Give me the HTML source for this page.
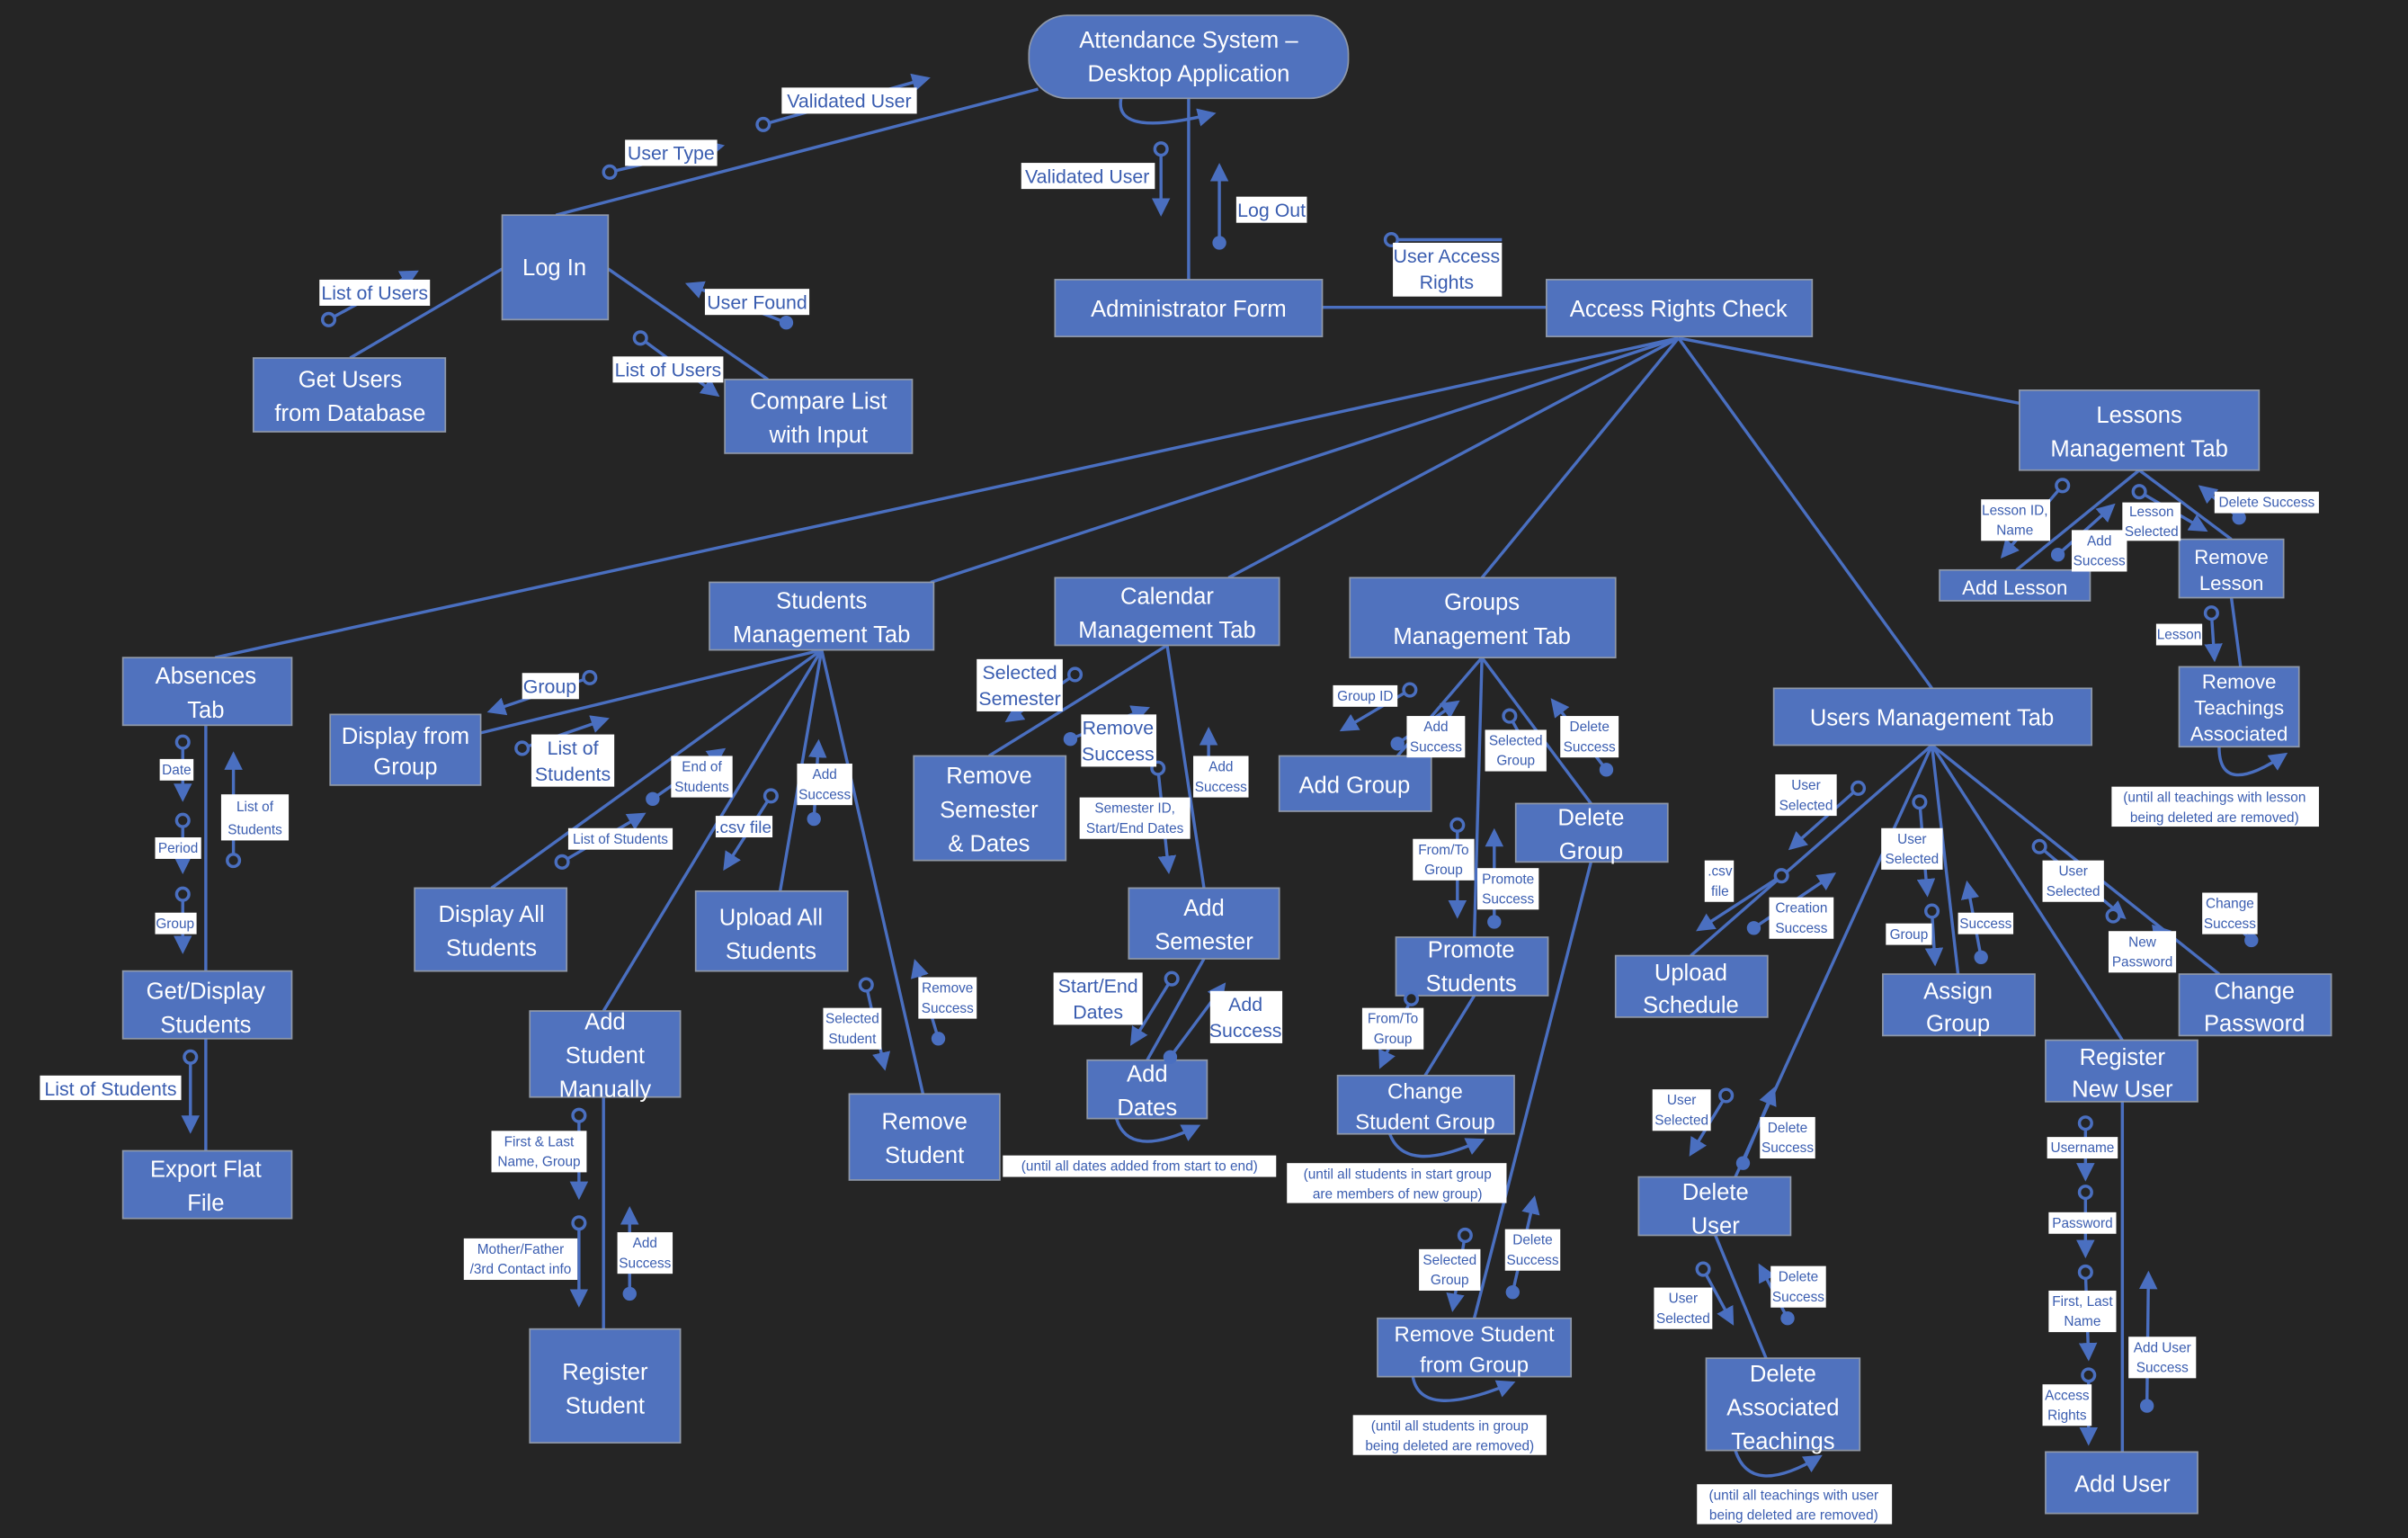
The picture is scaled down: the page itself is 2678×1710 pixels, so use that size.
<!DOCTYPE html>
<html><head><meta charset="utf-8"><style>
html,body{margin:0;padding:0;background:#252525;}
svg{display:block;}
.b{fill:#5072BE;stroke:#8f98a8;stroke-width:1;}
.bt{fill:#fff;font-family:"Liberation Sans",sans-serif;font-size:15px;text-anchor:middle;}
.ln{stroke:#4A6FC0;stroke-width:2;fill:none;}
.cp{stroke:#4A6FC0;stroke-width:2;fill:none;marker-end:url(#ah);}
.oc{fill:#252525;stroke:#4A6FC0;stroke-width:2;}
.fc{fill:#4A6FC0;}
.lb{fill:#fff;}
.lt{fill:#3A5DB0;font-family:"Liberation Sans",sans-serif;font-size:12.5px;text-anchor:middle;}
.st{fill:#3A5DB0;font-family:"Liberation Sans",sans-serif;font-size:9px;text-anchor:middle;}
</style></head><body>
<svg width="2678" height="1710" viewBox="0 0 1568 1001" preserveAspectRatio="none" xmlns="http://www.w3.org/2000/svg">
<defs><marker id="ah" markerWidth="6" markerHeight="6" refX="5" refY="3" orient="auto" markerUnits="strokeWidth"><path d="M0,0 L6,3 L0,6 z" fill="#4A6FC0"/></marker></defs>
<rect width="1568" height="1001" fill="#252525"/>

<!-- tree lines -->
<g class="ln">
<line x1="774" y1="64" x2="774" y2="182"/>
<line x1="676" y1="58" x2="362" y2="140"/>
<line x1="327" y1="175" x2="228" y2="233"/>
<line x1="396" y1="175" x2="500" y2="247"/>
<line x1="861" y1="200" x2="1007" y2="200"/>
<line x1="1093" y1="220" x2="1318" y2="263"/>
<line x1="1093" y1="220" x2="1258" y2="448"/>
<line x1="1093" y1="220" x2="965" y2="376"/>
<line x1="1093" y1="220" x2="800" y2="376"/>
<line x1="1093" y1="220" x2="606" y2="379"/>
<line x1="1093" y1="220" x2="140" y2="428"/>
<line x1="1393" y1="306" x2="1313" y2="371"/>
<line x1="1393" y1="306" x2="1453" y2="351"/>
<line x1="1453" y1="389" x2="1459" y2="434"/>
<line x1="535" y1="423" x2="313" y2="477"/>
<line x1="535" y1="423" x2="320" y2="578"/>
<line x1="535" y1="423" x2="508" y2="580"/>
<line x1="535" y1="423" x2="393" y2="658"/>
<line x1="535" y1="423" x2="601" y2="712"/>
<line x1="393" y1="714" x2="393" y2="865"/>
<line x1="134" y1="472" x2="134" y2="632"/>
<line x1="134" y1="676" x2="134" y2="749"/>
<line x1="760" y1="420" x2="644" y2="492"/>
<line x1="760" y1="420" x2="784" y2="578"/>
<line x1="784" y1="624" x2="747" y2="690"/>
<line x1="965" y1="428" x2="910" y2="492"/>
<line x1="965" y1="428" x2="1036" y2="523"/>
<line x1="965" y1="428" x2="960" y2="610"/>
<line x1="960" y1="648" x2="928" y2="700"/>
<line x1="1036" y1="561" x2="960" y2="858"/>
<line x1="1258" y1="485" x2="1101" y2="622"/>
<line x1="1258" y1="485" x2="1275" y2="634"/>
<line x1="1258" y1="485" x2="1445" y2="634"/>
<line x1="1258" y1="485" x2="1382" y2="677"/>
<line x1="1258" y1="485" x2="1130" y2="766"/>
<line x1="1117" y1="804" x2="1150" y2="884"/>
<line x1="1382" y1="717" x2="1382" y2="945"/>
</g>
<!-- loops -->
<g class="cp">
<path d="M730 64 Q725 90 790 74" />
<path d="M727 728 Q735 755 780 733" />
<path d="M905 738 Q915 765 965 742" />
<path d="M920 896 Q925 925 985 900" />
<path d="M1130 944 Q1140 975 1185 948" />
<path d="M1445 486 Q1445 520 1488 491" />
</g>

<!-- boxes -->
<rect class="b" x="670" y="10" width="208" height="54" rx="25"/>
<text class="bt" x="774" y="31">Attendance System –</text><text class="bt" x="774" y="53">Desktop Application</text>
<rect class="b" x="327" y="140" width="69" height="68"/><text class="bt" x="361" y="179">Log In</text>
<rect class="b" x="165" y="233" width="125" height="48"/><text class="bt" x="228" y="252">Get Users</text><text class="bt" x="228" y="274">from Database</text>
<rect class="b" x="472" y="247" width="122" height="48"/><text class="bt" x="533" y="266">Compare List</text><text class="bt" x="533" y="288">with Input</text>
<rect class="b" x="687" y="182" width="174" height="37"/><text class="bt" x="774" y="206">Administrator Form</text>
<rect class="b" x="1007" y="182" width="173" height="37"/><text class="bt" x="1093" y="206">Access Rights Check</text>
<rect class="b" x="1315" y="254" width="156" height="52"/><text class="bt" x="1393" y="275">Lessons</text><text class="bt" x="1393" y="297">Management Tab</text>
<rect class="b" x="1263" y="371" width="98" height="20"/><text class="bt" x="1312" y="387" style="font-size:13px">Add Lesson</text>
<rect class="b" x="1419" y="351" width="68" height="38"/><text class="bt" x="1453" y="367" style="font-size:13px">Remove</text><text class="bt" x="1453" y="384" style="font-size:13px">Lesson</text>
<rect class="b" x="1419" y="434" width="78" height="52"/><text class="bt" x="1458" y="448" style="font-size:13px">Remove</text><text class="bt" x="1458" y="465" style="font-size:13px">Teachings</text><text class="bt" x="1458" y="482" style="font-size:13px">Associated</text>
<rect class="b" x="1155" y="448" width="207" height="37"/><text class="bt" x="1258" y="472">Users Management Tab</text>
<rect class="b" x="879" y="376" width="173" height="52"/><text class="bt" x="965" y="397">Groups</text><text class="bt" x="965" y="419">Management Tab</text>
<rect class="b" x="687" y="376" width="146" height="44"/><text class="bt" x="760" y="393">Calendar</text><text class="bt" x="760" y="415">Management Tab</text>
<rect class="b" x="462" y="379" width="146" height="44"/><text class="bt" x="535" y="396">Students</text><text class="bt" x="535" y="418">Management Tab</text>
<rect class="b" x="80" y="428" width="110" height="44"/><text class="bt" x="134" y="445">Absences</text><text class="bt" x="134" y="467">Tab</text>
<rect class="b" x="215" y="465" width="98" height="46"/><text class="bt" x="264" y="484">Display from</text><text class="bt" x="264" y="504">Group</text>
<rect class="b" x="270" y="578" width="99" height="54"/><text class="bt" x="320" y="600">Display All</text><text class="bt" x="320" y="622">Students</text>
<rect class="b" x="453" y="580" width="99" height="52"/><text class="bt" x="502" y="602">Upload All</text><text class="bt" x="502" y="624">Students</text>
<rect class="b" x="345" y="658" width="98" height="56"/><text class="bt" x="394" y="670">Add</text><text class="bt" x="394" y="692">Student</text><text class="bt" x="394" y="714">Manually</text>
<rect class="b" x="553" y="712" width="98" height="56"/><text class="bt" x="602" y="735">Remove</text><text class="bt" x="602" y="757">Student</text>
<rect class="b" x="345" y="865" width="98" height="74"/><text class="bt" x="394" y="898">Register</text><text class="bt" x="394" y="920">Student</text>
<rect class="b" x="80" y="632" width="110" height="44"/><text class="bt" x="134" y="650">Get/Display</text><text class="bt" x="134" y="672">Students</text>
<rect class="b" x="80" y="749" width="110" height="44"/><text class="bt" x="134" y="766">Export Flat</text><text class="bt" x="134" y="788">File</text>
<rect class="b" x="595" y="492" width="99" height="68"/><text class="bt" x="644" y="510">Remove</text><text class="bt" x="644" y="532">Semester</text><text class="bt" x="644" y="554">&amp; Dates</text>
<rect class="b" x="735" y="578" width="98" height="46"/><text class="bt" x="784" y="596">Add</text><text class="bt" x="784" y="618">Semester</text>
<rect class="b" x="708" y="690" width="78" height="38"/><text class="bt" x="747" y="704">Add</text><text class="bt" x="747" y="726">Dates</text>
<rect class="b" x="833" y="492" width="99" height="36"/><text class="bt" x="882" y="516">Add Group</text>
<rect class="b" x="987" y="523" width="99" height="38"/><text class="bt" x="1036" y="537">Delete</text><text class="bt" x="1036" y="559">Group</text>
<rect class="b" x="909" y="610" width="99" height="38"/><text class="bt" x="958" y="623">Promote</text><text class="bt" x="958" y="645">Students</text>
<rect class="b" x="871" y="700" width="115" height="38"/><text class="bt" x="928" y="715" style="font-size:14px">Change</text><text class="bt" x="928" y="735" style="font-size:14px">Student Group</text>
<rect class="b" x="897" y="858" width="126" height="38"/><text class="bt" x="960" y="873" style="font-size:14px">Remove Student</text><text class="bt" x="960" y="893" style="font-size:14px">from Group</text>
<rect class="b" x="1052" y="622" width="99" height="40"/><text class="bt" x="1101" y="638">Upload</text><text class="bt" x="1101" y="659">Schedule</text>
<rect class="b" x="1226" y="634" width="99" height="40"/><text class="bt" x="1275" y="650">Assign</text><text class="bt" x="1275" y="671">Group</text>
<rect class="b" x="1419" y="634" width="99" height="40"/><text class="bt" x="1468" y="650">Change</text><text class="bt" x="1468" y="671">Password</text>
<rect class="b" x="1332" y="677" width="99" height="40"/><text class="bt" x="1382" y="693">Register</text><text class="bt" x="1382" y="714">New User</text>
<rect class="b" x="1067" y="766" width="99" height="38"/><text class="bt" x="1117" y="781">Delete</text><text class="bt" x="1117" y="803">User</text>
<rect class="b" x="1111" y="884" width="100" height="60"/><text class="bt" x="1161" y="899">Delete</text><text class="bt" x="1161" y="921">Associated</text><text class="bt" x="1161" y="943">Teachings</text>
<rect class="b" x="1332" y="945" width="99" height="40"/><text class="bt" x="1382" y="971">Add User</text>

<!-- couples -->
<g class="cp">
<line x1="497" y1="81" x2="604" y2="51"/>
<line x1="397" y1="112" x2="470" y2="95"/>
<line x1="756" y1="97" x2="756" y2="139"/>
<line x1="794" y1="158" x2="794" y2="108"/>
<line x1="214" y1="208" x2="271" y2="177"/>
<line x1="512" y1="210" x2="448" y2="185"/>
<line x1="417" y1="220" x2="467" y2="257"/>
<line x1="906" y1="156" x2="978" y2="156" style="marker-end:none"/>
<line x1="1343" y1="316" x2="1304" y2="362"/>
<line x1="1340" y1="361" x2="1376" y2="329"/>
<line x1="1393" y1="320" x2="1436" y2="345"/>
<line x1="1458" y1="337" x2="1433" y2="317"/>
<line x1="1440" y1="399" x2="1442" y2="429"/>
<line x1="119" y1="483" x2="119" y2="520"/>
<line x1="119" y1="534" x2="119" y2="567"/>
<line x1="119" y1="582" x2="119" y2="619"/>
<line x1="152" y1="560" x2="152" y2="491"/>
<line x1="124" y1="688" x2="124" y2="736"/>
<line x1="384" y1="441" x2="319" y2="463"/>
<line x1="340" y1="487" x2="395" y2="468"/>
<line x1="425" y1="520" x2="471" y2="488"/>
<line x1="366" y1="561" x2="419" y2="530"/>
<line x1="502" y1="518" x2="472" y2="565"/>
<line x1="530" y1="533" x2="533" y2="483"/>
<line x1="611" y1="676" x2="596" y2="626"/>
<line x1="564" y1="641" x2="576" y2="695"/>
<line x1="377" y1="726" x2="377" y2="779"/>
<line x1="377" y1="796" x2="377" y2="849"/>
<line x1="410" y1="842" x2="410" y2="787"/>
<line x1="700" y1="439" x2="656" y2="469"/>
<line x1="697" y1="481" x2="747" y2="461"/>
<line x1="787" y1="514" x2="787" y2="475"/>
<line x1="754" y1="500" x2="761" y2="567"/>
<line x1="763" y1="637" x2="737" y2="679"/>
<line x1="762" y1="688" x2="797" y2="641"/>
<line x1="918" y1="449" x2="874" y2="475"/>
<line x1="910" y1="484" x2="949" y2="457"/>
<line x1="983" y1="466" x2="999" y2="495"/>
<line x1="1046" y1="501" x2="1011" y2="456"/>
<line x1="949" y1="537" x2="949" y2="596"/>
<line x1="973" y1="600" x2="973" y2="541"/>
<line x1="919" y1="650" x2="899" y2="694"/>
<line x1="954" y1="804" x2="946" y2="852"/>
<line x1="985" y1="841" x2="999" y2="780"/>
<line x1="1210" y1="513" x2="1166" y2="552"/>
<line x1="1160" y1="570" x2="1106" y2="605"/>
<line x1="1142" y1="604" x2="1194" y2="569"/>
<line x1="1250" y1="522" x2="1255" y2="582"/>
<line x1="1258" y1="593" x2="1260" y2="627"/>
<line x1="1290" y1="623" x2="1281" y2="575"/>
<line x1="1328" y1="551" x2="1383" y2="597"/>
<line x1="1376" y1="612" x2="1412" y2="606"/>
<line x1="1466" y1="612" x2="1439" y2="586"/>
<line x1="1124" y1="713" x2="1101" y2="751"/>
<line x1="1135" y1="757" x2="1155" y2="709"/>
<line x1="1109" y1="826" x2="1128" y2="861"/>
<line x1="1164" y1="858" x2="1146" y2="824"/>
<line x1="1358" y1="731" x2="1358" y2="767"/>
<line x1="1358" y1="776" x2="1358" y2="817"/>
<line x1="1358" y1="828" x2="1360" y2="884"/>
<line x1="1360" y1="895" x2="1360" y2="939"/>
<line x1="1398" y1="915" x2="1399" y2="829"/>
</g>
<g>
<circle class="oc" cx="497" cy="81" r="4"/><circle class="oc" cx="397" cy="112" r="4"/><circle class="oc" cx="756" cy="97" r="4"/><circle class="fc" cx="794" cy="158" r="4.5"/>
<circle class="oc" cx="214" cy="208" r="4"/><circle class="fc" cx="512" cy="210" r="4.5"/><circle class="oc" cx="417" cy="220" r="4"/><circle class="oc" cx="906" cy="156" r="4"/>
<circle class="oc" cx="1343" cy="316" r="4"/><circle class="fc" cx="1340" cy="361" r="4.5"/><circle class="oc" cx="1393" cy="320" r="4"/><circle class="fc" cx="1458" cy="337" r="4.5"/><circle class="oc" cx="1440" cy="399" r="4"/>
<circle class="oc" cx="119" cy="483" r="4"/><circle class="oc" cx="119" cy="534" r="4"/><circle class="oc" cx="119" cy="582" r="4"/><circle class="oc" cx="152" cy="560" r="4"/><circle class="oc" cx="124" cy="688" r="4"/>
<circle class="oc" cx="384" cy="441" r="4"/><circle class="oc" cx="340" cy="487" r="4"/><circle class="fc" cx="425" cy="520" r="4.5"/><circle class="oc" cx="366" cy="561" r="4"/><circle class="oc" cx="502" cy="518" r="4"/><circle class="fc" cx="530" cy="533" r="4.5"/>
<circle class="fc" cx="611" cy="676" r="4.5"/><circle class="oc" cx="564" cy="641" r="4"/><circle class="oc" cx="377" cy="726" r="4"/><circle class="oc" cx="377" cy="796" r="4"/><circle class="fc" cx="410" cy="842" r="4.5"/>
<circle class="oc" cx="700" cy="439" r="4"/><circle class="fc" cx="697" cy="481" r="4.5"/><circle class="fc" cx="787" cy="514" r="4.5"/><circle class="oc" cx="754" cy="500" r="4"/><circle class="oc" cx="763" cy="637" r="4"/><circle class="fc" cx="762" cy="688" r="4.5"/>
<circle class="oc" cx="918" cy="449" r="4"/><circle class="fc" cx="910" cy="484" r="4.5"/><circle class="oc" cx="983" cy="466" r="4"/><circle class="fc" cx="1046" cy="501" r="4.5"/><circle class="oc" cx="949" cy="537" r="4"/><circle class="fc" cx="973" cy="600" r="4.5"/><circle class="oc" cx="919" cy="650" r="4"/><circle class="oc" cx="954" cy="804" r="4"/><circle class="fc" cx="985" cy="841" r="4.5"/>
<circle class="oc" cx="1210" cy="513" r="4"/><circle class="oc" cx="1160" cy="570" r="4"/><circle class="fc" cx="1142" cy="604" r="4.5"/><circle class="oc" cx="1250" cy="522" r="4"/><circle class="oc" cx="1258" cy="593" r="4"/><circle class="fc" cx="1290" cy="623" r="4.5"/>
<circle class="oc" cx="1328" cy="551" r="4"/><circle class="oc" cx="1376" cy="596" r="4"/><circle class="fc" cx="1466" cy="612" r="4.5"/><circle class="oc" cx="1124" cy="713" r="4"/><circle class="fc" cx="1135" cy="757" r="4.5"/><circle class="oc" cx="1109" cy="826" r="4"/><circle class="fc" cx="1164" cy="858" r="4.5"/>
<circle class="oc" cx="1358" cy="731" r="4"/><circle class="oc" cx="1358" cy="776" r="4"/><circle class="oc" cx="1358" cy="828" r="4"/><circle class="oc" cx="1360" cy="895" r="4"/><circle class="fc" cx="1398" cy="915" r="4.5"/>
</g>

<!-- labels medium -->
<g>
<rect class="lb" x="509" y="57" width="88" height="17"/><text class="lt" x="553" y="70">Validated User</text>
<rect class="lb" x="407" y="91" width="60" height="17"/><text class="lt" x="437" y="104">User Type</text>
<rect class="lb" x="665" y="106" width="87" height="17"/><text class="lt" x="708" y="119">Validated User</text>
<rect class="lb" x="805" y="128" width="46" height="17"/><text class="lt" x="828" y="141">Log Out</text>
<rect class="lb" x="208" y="182" width="72" height="17"/><text class="lt" x="244" y="195">List of Users</text>
<rect class="lb" x="459" y="188" width="68" height="17"/><text class="lt" x="493" y="201">User Found</text>
<rect class="lb" x="399" y="232" width="72" height="17"/><text class="lt" x="435" y="245">List of Users</text>
<rect class="lb" x="907" y="158" width="71" height="35"/><text class="lt" x="942" y="171">User Access</text><text class="lt" x="942" y="188">Rights</text>
<rect class="lb" x="26" y="700" width="92" height="16"/><text class="lt" x="72" y="713">List of Students</text>
<rect class="lb" x="340" y="438" width="37" height="17"/><text class="lt" x="358" y="451">Group</text>
<rect class="lb" x="346" y="478" width="54" height="34"/><text class="lt" x="373" y="491">List of</text><text class="lt" x="373" y="508">Students</text>
<rect class="lb" x="466" y="531" width="37" height="14"/><text class="st" x="484" y="542" style="font-size:11px">.csv file</text>
<rect class="lb" x="636" y="429" width="56" height="34"/><text class="lt" x="664" y="442">Selected</text><text class="lt" x="664" y="459">Semester</text>
<rect class="lb" x="704" y="465" width="49" height="34"/><text class="lt" x="728" y="478">Remove</text><text class="lt" x="728" y="495">Success</text>
<rect class="lb" x="686" y="633" width="58" height="34"/><text class="lt" x="715" y="646">Start/End</text><text class="lt" x="715" y="663">Dates</text>
<rect class="lb" x="788" y="645" width="47" height="34"/><text class="lt" x="811" y="658">Add</text><text class="lt" x="811" y="675">Success</text>
</g>
<!-- labels small -->
<g>
<rect class="lb" x="1290" y="325" width="45" height="27"/><text class="st" x="1312" y="335">Lesson ID,</text><text class="st" x="1312" y="348">Name</text>
<rect class="lb" x="1349" y="345" width="36" height="27"/><text class="st" x="1367" y="355">Add</text><text class="st" x="1367" y="368">Success</text>
<rect class="lb" x="1382" y="327" width="38" height="25"/><text class="st" x="1401" y="336">Lesson</text><text class="st" x="1401" y="349">Selected</text>
<rect class="lb" x="1442" y="320" width="68" height="14"/><text class="st" x="1476" y="330">Delete Success</text>
<rect class="lb" x="1404" y="406" width="30" height="14"/><text class="st" x="1419" y="416">Lesson</text>
<rect class="lb" x="1375" y="512" width="135" height="26"/><text class="st" x="1442" y="522">(until all teachings with lesson</text><text class="st" x="1442" y="535">being deleted are removed)</text>
<rect class="lb" x="104" y="494" width="22" height="14"/><text class="st" x="115" y="504">Date</text>
<rect class="lb" x="101" y="545" width="30" height="14"/><text class="st" x="116" y="555">Period</text>
<rect class="lb" x="101" y="594" width="27" height="14"/><text class="st" x="114" y="604">Group</text>
<rect class="lb" x="144" y="517" width="44" height="30"/><text class="st" x="166" y="528">List of</text><text class="st" x="166" y="543">Students</text>
<rect class="lb" x="437" y="492" width="40" height="27"/><text class="st" x="457" y="502">End of</text><text class="st" x="457" y="515">Students</text>
<rect class="lb" x="370" y="539" width="68" height="14"/><text class="st" x="404" y="549">List of Students</text>
<rect class="lb" x="519" y="497" width="36" height="27"/><text class="st" x="537" y="507">Add</text><text class="st" x="537" y="520">Success</text>
<rect class="lb" x="598" y="636" width="38" height="27"/><text class="st" x="617" y="646">Remove</text><text class="st" x="617" y="659">Success</text>
<rect class="lb" x="536" y="656" width="38" height="27"/><text class="st" x="555" y="666">Selected</text><text class="st" x="555" y="679">Student</text>
<rect class="lb" x="320" y="736" width="62" height="27"/><text class="st" x="351" y="746">First &amp; Last</text><text class="st" x="351" y="759">Name, Group</text>
<rect class="lb" x="302" y="806" width="74" height="27"/><text class="st" x="339" y="816">Mother/Father</text><text class="st" x="339" y="829">/3rd Contact info</text>
<rect class="lb" x="402" y="802" width="36" height="27"/><text class="st" x="420" y="812">Add</text><text class="st" x="420" y="825">Success</text>
<rect class="lb" x="777" y="492" width="36" height="27"/><text class="st" x="795" y="502">Add</text><text class="st" x="795" y="515">Success</text>
<rect class="lb" x="703" y="519" width="72" height="27"/><text class="st" x="739" y="529">Semester ID,</text><text class="st" x="739" y="542">Start/End Dates</text>
<rect class="lb" x="653" y="752" width="178" height="14"/><text class="st" x="742" y="762">(until all dates added from start to end)</text>
<rect class="lb" x="868" y="446" width="42" height="14"/><text class="st" x="889" y="456">Group ID</text>
<rect class="lb" x="916" y="466" width="38" height="27"/><text class="st" x="935" y="476">Add</text><text class="st" x="935" y="489">Success</text>
<rect class="lb" x="967" y="475" width="40" height="27"/><text class="st" x="987" y="485">Selected</text><text class="st" x="987" y="498">Group</text>
<rect class="lb" x="1016" y="466" width="38" height="27"/><text class="st" x="1035" y="476">Delete</text><text class="st" x="1035" y="489">Success</text>
<rect class="lb" x="920" y="546" width="40" height="27"/><text class="st" x="940" y="556">From/To</text><text class="st" x="940" y="569">Group</text>
<rect class="lb" x="962" y="565" width="40" height="27"/><text class="st" x="982" y="575">Promote</text><text class="st" x="982" y="588">Success</text>
<rect class="lb" x="887" y="656" width="40" height="27"/><text class="st" x="907" y="666">From/To</text><text class="st" x="907" y="679">Group</text>
<rect class="lb" x="838" y="757" width="143" height="26"/><text class="st" x="910" y="767">(until all students in start group</text><text class="st" x="910" y="780">are members of new group)</text>
<rect class="lb" x="924" y="813" width="40" height="27"/><text class="st" x="944" y="823">Selected</text><text class="st" x="944" y="836">Group</text>
<rect class="lb" x="980" y="800" width="36" height="27"/><text class="st" x="998" y="810">Delete</text><text class="st" x="998" y="823">Success</text>
<rect class="lb" x="881" y="921" width="126" height="26"/><text class="st" x="944" y="931">(until all students in group</text><text class="st" x="944" y="944">being deleted are removed)</text>
<rect class="lb" x="1156" y="504" width="40" height="27"/><text class="st" x="1176" y="514">User</text><text class="st" x="1176" y="527">Selected</text>
<rect class="lb" x="1110" y="560" width="19" height="27"/><text class="st" x="1120" y="570">.csv</text><text class="st" x="1120" y="583">file</text>
<rect class="lb" x="1152" y="584" width="42" height="27"/><text class="st" x="1173" y="594">Creation</text><text class="st" x="1173" y="607">Success</text>
<rect class="lb" x="1225" y="539" width="40" height="27"/><text class="st" x="1245" y="549">User</text><text class="st" x="1245" y="562">Selected</text>
<rect class="lb" x="1228" y="601" width="30" height="14"/><text class="st" x="1243" y="611">Group</text>
<rect class="lb" x="1275" y="594" width="36" height="14"/><text class="st" x="1293" y="604">Success</text>
<rect class="lb" x="1330" y="560" width="40" height="27"/><text class="st" x="1350" y="570">User</text><text class="st" x="1350" y="583">Selected</text>
<rect class="lb" x="1373" y="606" width="44" height="27"/><text class="st" x="1395" y="616">New</text><text class="st" x="1395" y="629">Password</text>
<rect class="lb" x="1434" y="581" width="36" height="27"/><text class="st" x="1452" y="591">Change</text><text class="st" x="1452" y="604">Success</text>
<rect class="lb" x="1076" y="709" width="38" height="27"/><text class="st" x="1095" y="719">User</text><text class="st" x="1095" y="732">Selected</text>
<rect class="lb" x="1146" y="727" width="36" height="27"/><text class="st" x="1164" y="737">Delete</text><text class="st" x="1164" y="750">Success</text>
<rect class="lb" x="1077" y="838" width="38" height="27"/><text class="st" x="1096" y="848">User</text><text class="st" x="1096" y="861">Selected</text>
<rect class="lb" x="1153" y="824" width="36" height="27"/><text class="st" x="1171" y="834">Delete</text><text class="st" x="1171" y="847">Success</text>
<rect class="lb" x="1105" y="966" width="127" height="26"/><text class="st" x="1168" y="976">(until all teachings with user</text><text class="st" x="1168" y="989">being deleted are removed)</text>
<rect class="lb" x="1333" y="740" width="46" height="14"/><text class="st" x="1356" y="750">Username</text>
<rect class="lb" x="1334" y="789" width="44" height="14"/><text class="st" x="1356" y="799">Password</text>
<rect class="lb" x="1334" y="840" width="44" height="27"/><text class="st" x="1356" y="850">First, Last</text><text class="st" x="1356" y="863">Name</text>
<rect class="lb" x="1330" y="901" width="32" height="27"/><text class="st" x="1346" y="911">Access</text><text class="st" x="1346" y="924">Rights</text>
<rect class="lb" x="1386" y="870" width="44" height="27"/><text class="st" x="1408" y="880">Add User</text><text class="st" x="1408" y="893">Success</text>
</g>
</svg>
</body></html>
